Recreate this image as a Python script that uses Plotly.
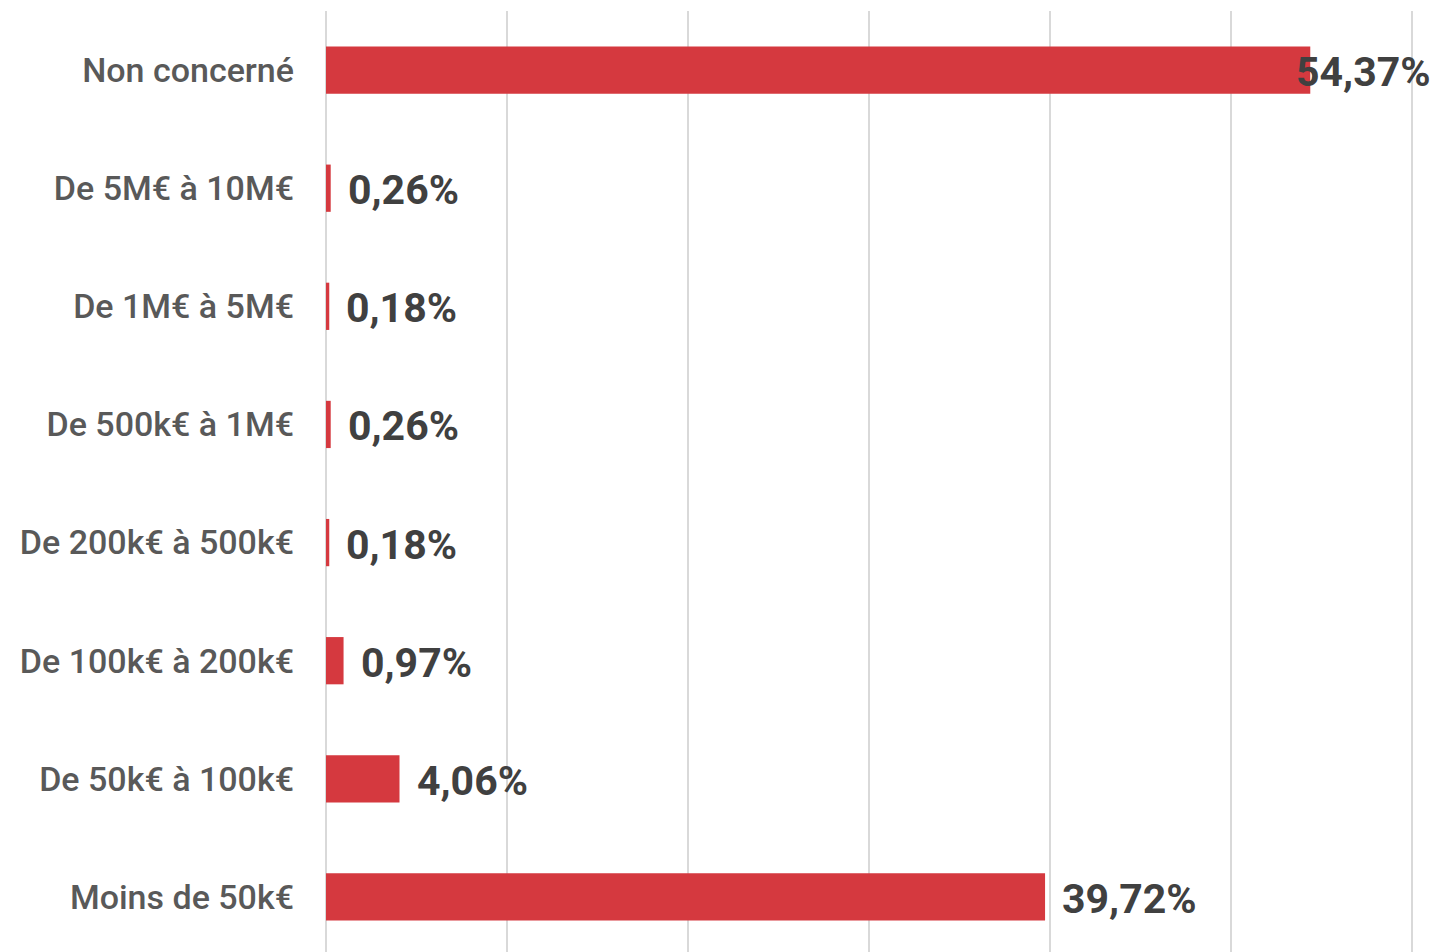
import plotly.graph_objects as go

categories = ["Moins de 50k€", "De 50k€ à 100k€", "De 100k€ à 200k€", "De 200k€ à 500k€",
              "De 500k€ à 1M€", "De 1M€ à 5M€", "De 5M€ à 10M€", "Non concerné"]
values = [39.72, 4.06, 0.97, 0.18, 0.26, 0.18, 0.26, 54.37]
labels = [f"{v:.2f}".replace(".", ",") + "%" for v in values]

X_MAX = 60.1
BAR_COLOR = "#D5393F"

fig = go.Figure(go.Bar(
    x=values, y=categories, orientation="h",
    marker=dict(color=BAR_COLOR, line=dict(width=0)),
    width=0.4, hoverinfo="skip",
))

annotations = []
for c, v, t in zip(categories, values, labels):
    if v > 50:
        annotations.append(dict(x=1, xref="paper", y=c, yref="y", text=t, showarrow=False,
                                xanchor="right", xshift=19, yshift=-2))
    else:
        annotations.append(dict(x=v, xref="x", y=c, yref="y", text=t, showarrow=False,
                                xanchor="left", xshift=15, yshift=-2))

fig.update_layout(
    width=1432, height=944,
    margin=dict(l=318, r=26, t=3, b=0),
    paper_bgcolor="white", plot_bgcolor="white",
    showlegend=False,
    font=dict(family="Roboto", color="#595959"),
    xaxis=dict(range=[0, X_MAX], dtick=10, showticklabels=False, showgrid=True,
               gridcolor="#D9D9D9", gridwidth=2, zeroline=True, zerolinecolor="#D9D9D9",
               zerolinewidth=2, showline=False, fixedrange=True),
    yaxis=dict(categoryorder="array", categoryarray=categories, range=[-0.466, 7.5],
               showgrid=False, zeroline=False, showline=False, ticks="",
               ticklabelstandoff=31,
               tickfont=dict(family="Roboto", size=34, color="#595959", weight=500)),
    annotations=[dict(a, font=dict(family="Roboto", size=41, color="#404040", weight="bold"))
                 for a in annotations],
)

fig.write_html("out.html")
